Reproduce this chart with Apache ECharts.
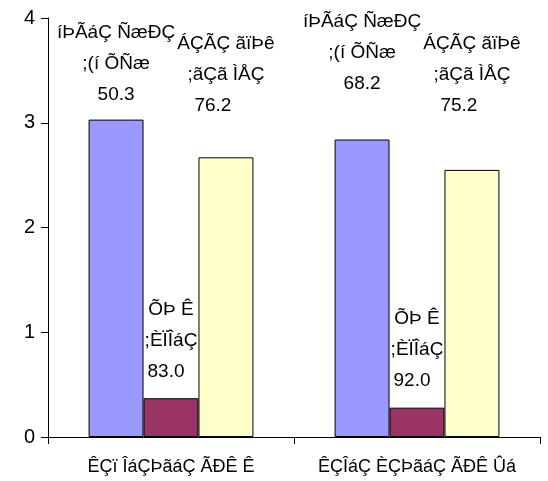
<!DOCTYPE html>
<html>
<head>
<meta charset="utf-8">
<script src="https://cdn.jsdelivr.net/npm/echarts@6/dist/echarts.min.js"></script>
<style>
  html, body { margin: 0; padding: 0; background: #fff; }
  #chart { width: 548px; height: 481px; }
</style>
</head>
<body>
<div id="chart"></div>
<script>
// Category names along the x axis
const categories = ['ÊÇï ÎáÇÞãáÇ ÃÐÊ Ê', 'ÊÇÎáÇ ÈÇÞãáÇ ÃÐÊ Ûá'];

// Bar heights per series
const blueValues = [3.03, 2.84];
const purpleValues = [0.37, 0.28];
const yellowValues = [2.67, 2.55];

// Caption lines and the figure printed under them
const blueCaption = ['íÞÃáÇ ÑæÐÇ', ';(í ÕÑæ'];
const purpleCaption = ['ÕÞ Ê', ';ÈÏÎáÇ'];
const yellowCaption = ['ÁÇÃÇ ãïÞê', ';ãÇã ÌÅÇ'];
const bluePercent = [50.3, 68.2];
const purplePercent = [83.0, 92.0];
const yellowPercent = [76.2, 75.2];

// Label layout: gap above each bar and how far the figure sits left of centre
const blueGap = [9, 40];
const purpleGap = [11, 11];
const yellowGap = [36, 49];
const blueShift = 0;
const purpleShift = 5;
const yellowShift = 13;

const yTicks = [0, 1, 2, 3, 4];

const FONT = 'Liberation Sans, Arial, sans-serif';

function makeData(values, caption, percent, gap, shift) {
  return values.map((v, i) => ({
    value: v,
    label: {
      show: true,
      position: 'top',
      distance: gap[i],
      formatter: caption.map(t => '{c|' + t + '}').join('\n') +
        '\n{n|' + percent[i].toFixed(1) + '}',
      align: 'center',
      rich: {
        c: { color: '#000', fontFamily: FONT, fontSize: 19, lineHeight: 31 },
        n: {
          color: '#000', fontFamily: FONT, fontSize: 19, lineHeight: 31,
          padding: [0, shift * 2, 0, 0]
        }
      }
    }
  }));
}

function makeSeries(name, color, values, caption, percent, gap, shift) {
  return {
    name: name,
    type: 'bar',
    barGap: '0%',
    barCategoryGap: '33%',
    data: makeData(values, caption, percent, gap, shift),
    itemStyle: { color: color, borderColor: '#000', borderWidth: 1 },
    emphasis: { disabled: true }
  };
}

const chart = echarts.init(document.getElementById('chart'), null, { renderer: 'canvas' });
chart.setOption({
  animation: false,
  backgroundColor: '#fff',
  grid: { left: 48, right: 8, top: 18, bottom: 44, containLabel: false },
  xAxis: {
    type: 'category',
    data: categories,
    boundaryGap: true,
    axisLine: { lineStyle: { color: '#000', width: 1 } },
    axisTick: { show: true, length: 7, lineStyle: { color: '#000' } },
    axisLabel: {
      interval: 0,
      color: '#000',
      fontFamily: FONT,
      fontSize: 18,
      margin: 21
    }
  },
  yAxis: {
    type: 'value',
    min: yTicks[0],
    max: yTicks[yTicks.length - 1],
    interval: 1,
    axisLine: { show: true, lineStyle: { color: '#000', width: 1 } },
    axisTick: { show: true, length: 7, lineStyle: { color: '#000' } },
    splitLine: { show: false },
    axisLabel: {
      color: '#000',
      fontFamily: FONT,
      fontSize: 20,
      margin: 13
    }
  },
  series: [
    makeSeries('blue', '#9999FF', blueValues, blueCaption, bluePercent, blueGap, blueShift),
    makeSeries('purple', '#993366', purpleValues, purpleCaption, purplePercent, purpleGap, purpleShift),
    makeSeries('yellow', '#FFFFCC', yellowValues, yellowCaption, yellowPercent, yellowGap, yellowShift)
  ]
});
</script>
</body>
</html>
